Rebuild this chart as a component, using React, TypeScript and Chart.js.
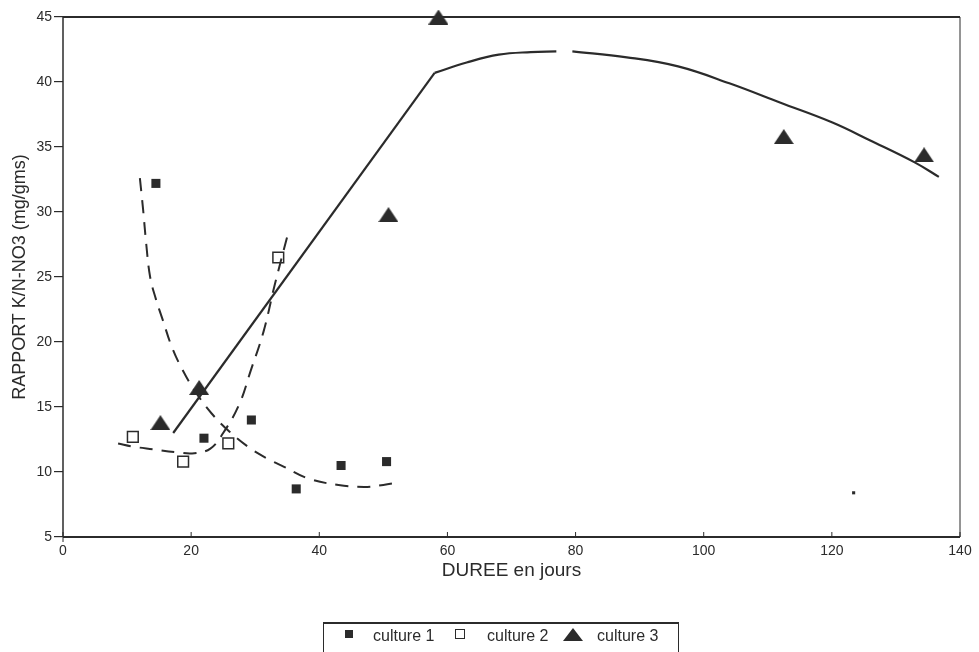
import React, { useEffect, useRef } from "react";
import { Chart, registerables } from "chart.js";
Chart.register(...registerables);

// ---- data ----
const culture1X = [14.5, 22, 29.4, 36.4, 43.4, 50.5];
const culture1Y = [32.2, 12.6, 14.0, 8.7, 10.5, 10.8];
const culture2X = [10.9, 18.75, 25.8, 33.6];
const culture2Y = [12.7, 10.8, 12.2, 26.5];
const culture3X = [15.2, 21.25, 50.8, 58.6, 112.5, 134.4];
const culture3Y = [13.8, 16.5, 29.8, 45, 35.8, 34.4];
const strayX = [123.4];
const strayY = [8.4];

// fitted curves (hand-drawn in the original)
const fit1X = [12.0, 12.5, 13.0, 13.6, 14.5, 15.5, 17.0, 18.5, 20.5, 23.2, 26, 29, 32, 34.5, 38.3, 43, 47, 50, 52.3];
const fit1Y = [32.6, 30.2, 27.5, 25.0, 23.3, 21.8, 19.6, 18, 16.3, 14.5, 13.1, 11.9, 11, 10.4, 9.5, 9.0, 8.85, 9.0, 9.2];
const fit2X = [8.6, 11, 14, 18, 20.5, 23, 25, 27.5, 29.3, 31.3, 33, 35.2];
const fit2Y = [12.2, 11.95, 11.75, 11.5, 11.45, 11.8, 13, 15.2, 17.8, 20.8, 24.3, 28.5];
const fit3LineX = [17.2, 58];
const fit3LineY = [13.0, 40.7];
const fit3CurveX = [58, 63, 68, 73, 77, 78, 79.5, 88, 96, 104, 112, 120, 126, 133, 136.7];
const fit3CurveY: (number | null)[] = [40.7, 41.5, 42.1, 42.3, 42.35, null, 42.35, 41.9, 41.2, 39.9, 38.4, 36.9, 35.5, 33.8, 32.7];

const xTicks = [0, 20, 40, 60, 80, 100, 120, 140];
const yTicks = [5, 10, 15, 20, 25, 30, 35, 40, 45];
const legendLabels = ["culture 1", "culture 2", "culture 3"];

const INK = "#2b2b2b";
const FONT = "'Liberation Sans', Arial, sans-serif";

const pts = (xs: number[], ys: (number | null)[]) => xs.map((x, i) => ({ x, y: ys[i] }));

function makeTriangle(): HTMLCanvasElement {
  const c = document.createElement("canvas");
  c.width = 20;
  c.height = 15;
  const g = c.getContext("2d")!;
  g.fillStyle = INK;
  g.beginPath();
  g.moveTo(10, 0);
  g.lineTo(20, 15);
  g.lineTo(0, 15);
  g.closePath();
  g.fill();
  return c;
}

const framePlugin = {
  id: "frame",
  afterDraw(chart: any) {
    const { ctx, chartArea: a, scales } = chart;
    ctx.save();
    ctx.strokeStyle = INK;
    ctx.lineCap = "butt";
    // top
    ctx.lineWidth = 2;
    ctx.beginPath();
    ctx.moveTo(a.left, a.top);
    ctx.lineTo(a.right, a.top);
    ctx.stroke();
    // bottom
    ctx.beginPath();
    ctx.moveTo(a.left, a.bottom);
    ctx.lineTo(a.right, a.bottom);
    ctx.stroke();
    // left
    ctx.lineWidth = 1.5;
    ctx.beginPath();
    ctx.moveTo(a.left, a.top);
    ctx.lineTo(a.left, a.bottom);
    ctx.stroke();
    // right
    ctx.lineWidth = 1;
    ctx.beginPath();
    ctx.moveTo(a.right, a.top);
    ctx.lineTo(a.right, a.bottom);
    ctx.stroke();
    // inner x ticks
    ctx.lineWidth = 1;
    for (const v of xTicks) {
      const px = scales.x.getPixelForValue(v);
      ctx.beginPath();
      ctx.moveTo(px, a.bottom - 5);
      ctx.lineTo(px, a.bottom + (v === 0 ? 5 : 0));
      ctx.stroke();
    }
    ctx.restore();
  },
};

export default function App() {
  const ref = useRef<HTMLCanvasElement | null>(null);

  useEffect(() => {
    document.body.style.margin = "0";
    const tri = makeTriangle();
    const chart = new Chart(ref.current!, {
      type: "scatter",
      data: {
        datasets: [
          {
            label: "fit1",
            type: "line",
            data: pts(fit1X, fit1Y),
            borderColor: INK,
            borderWidth: 2,
            borderDash: [13, 9],
            pointRadius: 0,
            tension: 0.4,
            fill: false,
          } as any,
          {
            label: "fit2",
            type: "line",
            data: pts(fit2X, fit2Y),
            borderColor: INK,
            borderWidth: 2,
            borderDash: [13, 9],
            pointRadius: 0,
            tension: 0.4,
            fill: false,
          } as any,
          {
            label: "fit3a",
            type: "line",
            data: pts(fit3LineX, fit3LineY),
            borderColor: INK,
            borderWidth: 2.2,
            pointRadius: 0,
            tension: 0,
            fill: false,
          } as any,
          {
            label: "fit3b",
            type: "line",
            data: pts(fit3CurveX, fit3CurveY),
            borderColor: INK,
            borderWidth: 2.2,
            pointRadius: 0,
            tension: 0.4,
            spanGaps: false,
            fill: false,
          } as any,
          {
            label: legendLabels[0],
            data: pts(culture1X, culture1Y),
            pointStyle: "rect",
            pointRadius: 6.4,
            backgroundColor: INK,
            borderColor: INK,
            borderWidth: 0,
          },
          {
            label: legendLabels[1],
            data: pts(culture2X, culture2Y),
            pointStyle: "rect",
            pointRadius: 7.6,
            backgroundColor: "#ffffff",
            borderColor: INK,
            borderWidth: 1.5,
          },
          {
            label: legendLabels[2],
            data: pts(culture3X, culture3Y),
            pointStyle: tri as any,
            pointRadius: 10,
            clip: false,
          } as any,
          {
            label: "stray",
            data: pts(strayX, strayY),
            pointStyle: "rect",
            pointRadius: 2.2,
            backgroundColor: INK,
            borderWidth: 0,
          },
        ],
      },
      options: {
        animation: false,
        responsive: false,
        maintainAspectRatio: false,
        layout: { padding: { left: 0, top: 17, right: 19, bottom: 65 } },
        plugins: {
          legend: { display: false },
          tooltip: { enabled: false },
        },
        scales: {
          x: {
            type: "linear",
            min: 0,
            max: 140,
            afterBuildTicks: (s: any) => {
              s.ticks = xTicks.map((v) => ({ value: v }));
            },
            afterFit: (s: any) => {
              s.height = 50;
            },
            grid: { display: false, drawTicks: false },
            border: { display: false },
            ticks: { color: INK, font: { family: FONT, size: 14 }, padding: 6 },
            title: {
              display: true,
              text: "DUREE en jours",
              color: INK,
              font: { family: FONT, size: 19 },
              padding: { top: 0, bottom: 5 },
            },
          },
          y: {
            type: "linear",
            min: 5,
            max: 45,
            afterBuildTicks: (s: any) => {
              s.ticks = yTicks.map((v) => ({ value: v }));
            },
            afterFit: (s: any) => {
              s.width = 63;
            },
            grid: {
              display: true,
              drawOnChartArea: false,
              drawTicks: true,
              tickLength: 9,
              color: INK,
              lineWidth: 1.2,
            },
            border: { display: false },
            ticks: { color: INK, font: { family: FONT, size: 14 }, padding: 2 },
            title: {
              display: true,
              text: "RAPPORT K/N-NO3 (mg/gms)",
              color: INK,
              font: { family: FONT, size: 18 },
              padding: { top: 9, bottom: 0 },
            },
          },
        },
      },
      plugins: [framePlugin],
    } as any);
    return () => chart.destroy();
  }, []);

  const text: React.CSSProperties = {
    position: "absolute",
    top: 2,
    fontFamily: FONT,
    fontSize: 16,
    color: INK,
    lineHeight: "20px",
    whiteSpace: "nowrap",
  };

  return (
    <div style={{ position: "relative", width: 979, height: 652, overflow: "hidden", background: "#fff" }}>
      <canvas ref={ref} width={979} height={652} style={{ display: "block" }} />
      <div
        style={{
          position: "absolute",
          left: 323,
          top: 622,
          width: 356,
          height: 44,
          border: `1.5px solid ${INK}`,
          borderTopWidth: 2,
          boxSizing: "border-box",
        }}
      >
        <div style={{ position: "absolute", left: 21, top: 6, width: 8, height: 8, background: INK }} />
        <span style={{ ...text, left: 49 }}>{legendLabels[0]}</span>
        <div
          style={{
            position: "absolute",
            left: 131,
            top: 5,
            width: 10,
            height: 10,
            border: `1.5px solid ${INK}`,
            boxSizing: "border-box",
          }}
        />
        <span style={{ ...text, left: 163 }}>{legendLabels[1]}</span>
        <div
          style={{
            position: "absolute",
            left: 239,
            top: 4,
            width: 0,
            height: 0,
            borderLeft: "10px solid transparent",
            borderRight: "10px solid transparent",
            borderBottom: `13px solid ${INK}`,
          }}
        />
        <span style={{ ...text, left: 273 }}>{legendLabels[2]}</span>
      </div>
    </div>
  );
}
